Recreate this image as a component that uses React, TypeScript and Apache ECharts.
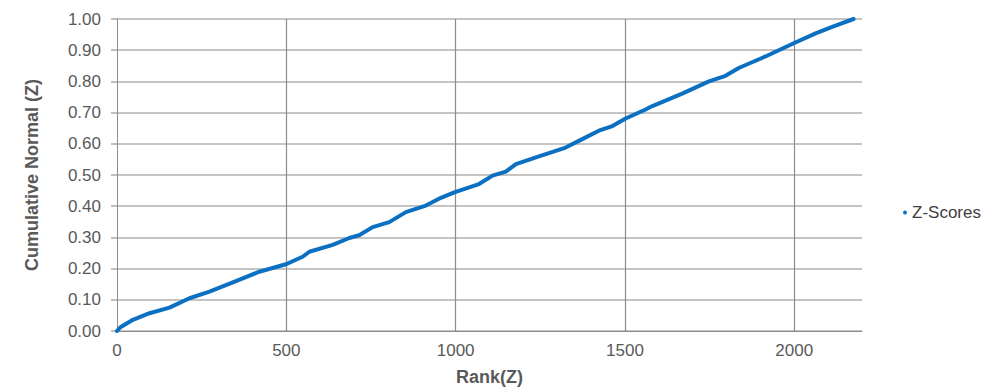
import React, { useEffect, useRef } from "react";
import * as echarts from "echarts";

// Rank of each observation and its cumulative normal probability
const ranks = [
  0, 10, 47, 96, 155, 214, 273, 342, 420, 499, 548, 568, 637, 686, 715, 755,
  804, 853, 912, 951, 998, 1069, 1109, 1148, 1178, 1246, 1325, 1374, 1423,
  1463, 1502, 1561, 1581, 1669, 1748, 1797, 1836, 1915, 2000, 2063, 2112, 2175,
];
const cumulative = [
  0, 0.012, 0.036, 0.057, 0.075, 0.105, 0.126, 0.156, 0.19, 0.214, 0.238,
  0.254, 0.276, 0.298, 0.307, 0.333, 0.349, 0.381, 0.402, 0.424, 0.445, 0.471,
  0.498, 0.511, 0.535, 0.56, 0.588, 0.615, 0.642, 0.657, 0.681, 0.71, 0.721,
  0.761, 0.8, 0.818, 0.843, 0.88, 0.923, 0.954, 0.975, 1.0,
];
const rankGridLines = [500, 1000, 1500, 2000];
const seriesName = "Z-Scores";

const FONT = "'Liberation Sans', Arial, sans-serif";
const LABEL_COLOR = "#595959";

export default function App() {
  const ref = useRef<HTMLDivElement>(null);

  useEffect(() => {
    if (!ref.current) return;
    const chart = echarts.init(ref.current, undefined, { renderer: "svg" });
    const points = ranks.map((r, i) => [r, cumulative[i]]);

    chart.setOption({
      animation: false,
      backgroundColor: "#ffffff",
      textStyle: { fontFamily: FONT },
      grid: { left: 117, top: 19, width: 745, height: 314 },
      legend: {
        data: [{ name: seriesName, icon: "circle" }],
        left: 898,
        top: 199,
        itemWidth: 4,
        itemHeight: 4,
        itemGap: 4,
        textStyle: { fontFamily: FONT, fontSize: 17, color: "#404040" },
      },
      xAxis: {
        type: "value",
        min: 0,
        max: 2200,
        interval: 500,
        name: "Rank(Z)",
        nameLocation: "middle",
        nameGap: 37,
        nameTextStyle: {
          fontFamily: FONT,
          fontSize: 18,
          fontWeight: "bold",
          color: LABEL_COLOR,
        },
        axisLine: { show: true, lineStyle: { color: "#8c8c8c", width: 1 } },
        axisTick: { show: false },
        splitLine: { show: false },
        axisLabel: {
          margin: 11,
          fontFamily: FONT,
          fontSize: 17,
          color: LABEL_COLOR,
          showMaxLabel: false,
          formatter: (v: number) => String(v),
        },
      },
      yAxis: {
        type: "value",
        min: 0,
        max: 1,
        interval: 0.1,
        name: "Cumulative Normal (Z)",
        nameLocation: "middle",
        nameGap: 76,
        nameTextStyle: {
          fontFamily: FONT,
          fontSize: 18,
          fontWeight: "bold",
          color: LABEL_COLOR,
        },
        axisLine: { show: true, lineStyle: { color: "#8c8c8c", width: 1 } },
        axisTick: {
          show: true,
          inside: false,
          length: 6,
          lineStyle: { color: "#bfbfbf", width: 2 },
        },
        splitLine: { show: true, lineStyle: { color: "#c4c4c4", width: 2 } },
        axisLabel: {
          margin: 16,
          fontFamily: FONT,
          fontSize: 17,
          color: LABEL_COLOR,
          formatter: (v: number) => v.toFixed(2),
        },
      },
      series: [
        {
          name: seriesName,
          type: "line",
          data: points,
          showSymbol: false,
          symbol: "circle",
          symbolSize: 4,
          itemStyle: { color: "#0b70c2" },
          lineStyle: { color: "#0b70c2", width: 4, cap: "round", join: "round" },
          z: 3,
          markLine: {
            silent: true,
            z: 1,
            symbol: ["none", "none"],
            label: { show: false },
            lineStyle: { color: "#8c8c8c", width: 1.2, type: "solid" },
            data: rankGridLines.map((x) => ({ xAxis: x })),
          },
        },
      ],
    });

    return () => chart.dispose();
  }, []);

  return (
    <div
      ref={ref}
      style={{ position: "fixed", left: 0, top: 0, width: 987, height: 391 }}
    />
  );
}
